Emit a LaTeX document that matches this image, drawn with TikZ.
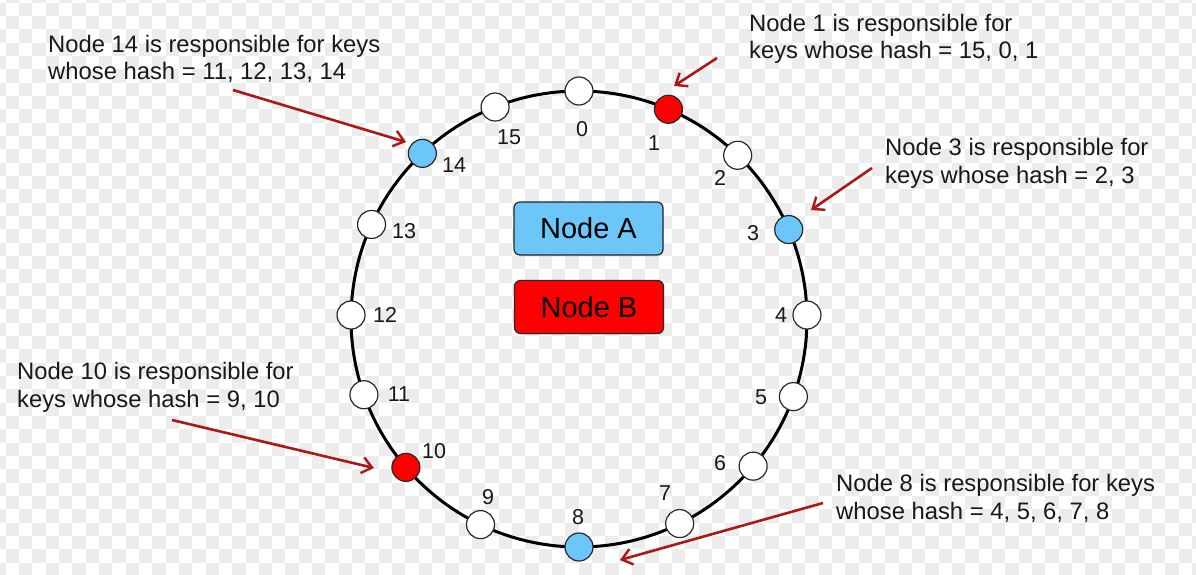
\documentclass[tikz,border=0pt]{standalone}
\usepackage{fontspec}
\setmainfont{Liberation Sans}
\usetikzlibrary{arrows.meta,shadows}
\definecolor{ringblue}{RGB}{108,198,248}
\definecolor{ringred}{RGB}{255,0,0}
\definecolor{arrred}{RGB}{170,24,24}
\definecolor{chk}{RGB}{236,236,236}
\definecolor{txt}{RGB}{25,25,25}
\definecolor{edge}{RGB}{40,40,40}
\begin{document}
\begin{tikzpicture}[x=1pt,y=-1pt,
  slot/.style={circle,draw=edge,line width=1.2pt,minimum size=28pt,inner sep=0pt,fill=white},
  slotA/.style={slot,fill=ringblue},
  slotB/.style={slot,fill=ringred},
  num/.style={font=\fontsize{21.5}{25}\selectfont,text=txt,inner sep=0pt},
  note/.style={font=\fontsize{23.8}{27.5}\selectfont,text=txt,align=left,inner sep=0pt,anchor=base west},
  legend/.style={rounded corners=6pt,draw=edge,line width=1.2pt,minimum width=149pt,minimum height=53pt,
    font=\fontsize{29}{34}\selectfont,inner sep=0pt,text=black,
    drop shadow={opacity=0.2,shadow xshift=0.8pt,shadow yshift=-1.5pt}},
  arr/.style={draw=arrred,line width=2.6pt,-{Straight Barb[length=10pt,width=16pt,line width=2.4pt]}}]
\useasboundingbox (0,0) rectangle (1196,575);
\fill[white] (0,0) rectangle (1196,575);
\begin{scope}
\clip (0,0) rectangle (1196,575);
\foreach \i in {0,...,90}{\foreach \j in {0,...,43}{
  \pgfmathtruncatemacro\chkp{mod(\i+\j,2)}
  \ifnum\chkp=1 \fill[chk] ({-7.83+13.333*\i},{-10.63+13.333*\j}) rectangle ++(13.333,13.333);\fi}}
\end{scope}
% ring
\coordinate (c) at (579,319);
\draw[line width=3pt,black] (c) circle[radius=228pt];
% slots
\path (c) ++(-90:228)    node[slot]  (n0) {};
\path (c) ++(-66.9:228)  node[slotB] (n1) {};
\path (c) ++(-45.9:228)  node[slot]  (n2) {};
\path (c) ++(-23.1:228)  node[slotA] (n3) {};
\path (c) ++(-1:228)     node[slot]  (n4) {};
\path (c) ++(19.9:228)   node[slot]  (n5) {};
\path (c) ++(40.2:228)   node[slot]  (n6) {};
\path (c) ++(63.8:228)   node[slot]  (n7) {};
\path (c) ++(90:228)     node[slotA] (n8) {};
\path (c) ++(115.6:228)  node[slot]  (n9) {};
\path (c) ++(139.4:228)  node[slotB] (n10) {};
\path (c) ++(160.6:228)  node[slot]  (n11) {};
\path (c) ++(181:228)    node[slot]  (n12) {};
\path (c) ++(204.5:228)  node[slot]  (n13) {};
\path (c) ++(226.6:228)  node[slotA] (n14) {};
\path (c) ++(248.4:228)  node[slot]  (n15) {};
% slot labels
\node[num] (l0)  at (582,129) {0};
\node[num] (l1)  at (654,143) {1};
\node[num] (l2)  at (720,178) {2};
\node[num] (l3)  at (753,233) {3};
\node[num] (l4)  at (781,315) {4};
\node[num] (l5)  at (761,397) {5};
\node[num] (l6)  at (720,463) {6};
\node[num] (l7)  at (665,493) {7};
\node[num] (l8)  at (578,517) {8};
\node[num] (l9)  at (488,497) {9};
\node[num] (l10) at (434,451) {10};
\node[num] (l11) at (399,394) {11};
\node[num] (l12) at (385,315) {12};
\node[num] (l13) at (404,231) {13};
\node[num] (l14) at (454,165) {14};
\node[num] (l15) at (509,137) {15};
% legend
\node[legend,fill=ringblue] (nodeA) at (588.5,228.5) {Node A};
\node[legend,fill=ringred]  (nodeB) at (589,307) {Node B};
% notes
\node[note] (t14) at (48,80)  {Node 14 is responsible for keys\\whose hash = 11, 12, 13, 14};
\node[note] (t1)  at (749,59) {Node 1 is responsible for\\keys whose hash = 15, 0, 1};
\node[note] (t3)  at (885,183) {Node 3 is responsible for\\keys whose hash = 2, 3};
\node[note] (t10) at (17,407) {Node 10 is responsible for\\keys whose hash = 9, 10};
\node[note] (t8)  at (836,519) {Node 8 is responsible for keys\\whose hash = 4, 5, 6, 7, 8};
% arrows
\coordinate (a14s) at (233,90);  \coordinate (a14e) at (406,142);
\coordinate (a1s)  at (717,58);  \coordinate (a1e)  at (674,86);
\coordinate (a3s)  at (872,168); \coordinate (a3e)  at (811,210);
\coordinate (a10s) at (172,420); \coordinate (a10e) at (374,468);
\coordinate (a8s)  at (823,503); \coordinate (a8e)  at (620,560);
\draw[arr] (a14s) -- (a14e);
\draw[arr] (a1s) -- (a1e);
\draw[arr] (a3s) -- (a3e);
\draw[arr] (a10s) -- (a10e);
\draw[arr] (a8s) -- (a8e);
\end{tikzpicture}
\end{document}
